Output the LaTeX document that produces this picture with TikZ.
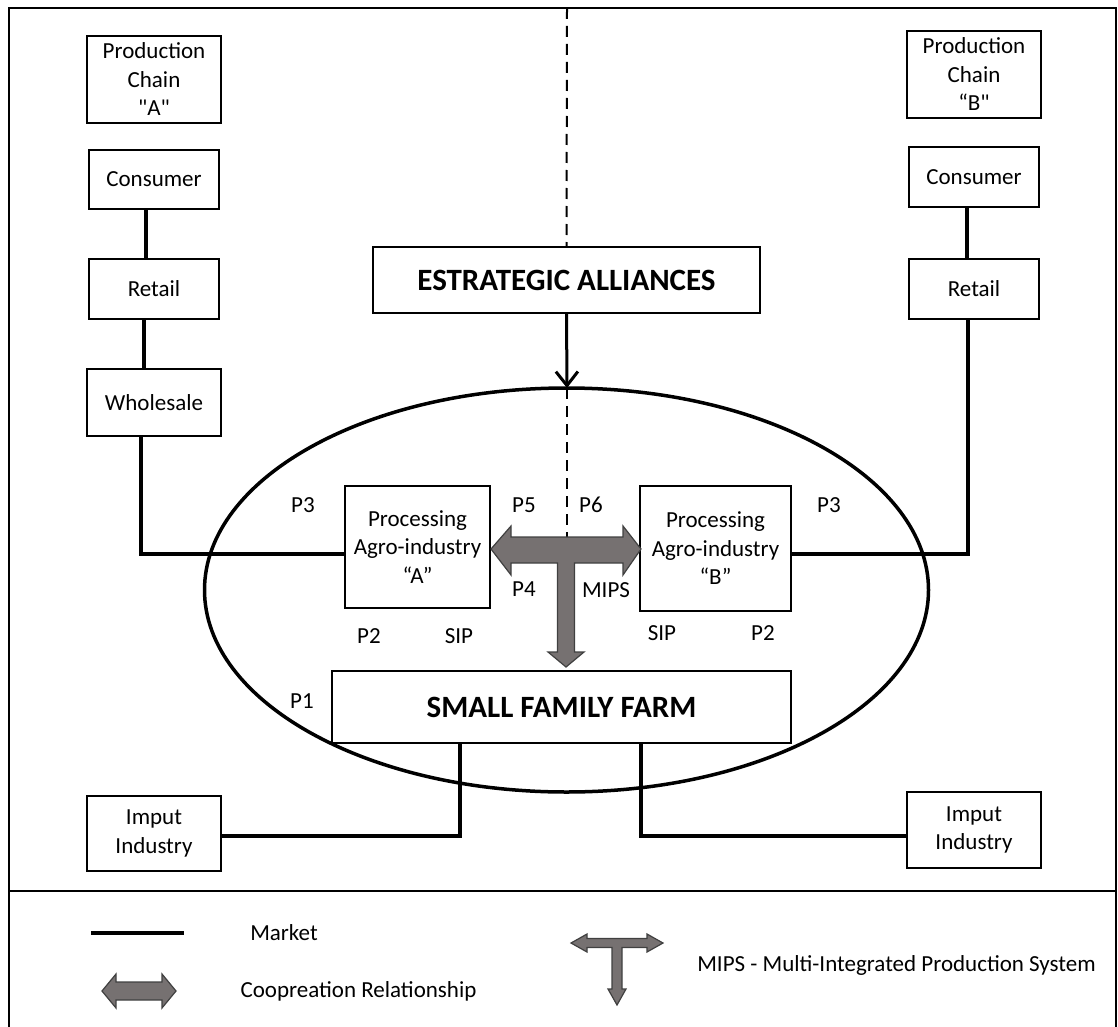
\documentclass[tikz,border=0pt]{standalone}
\usepackage{fontspec}
\newfontfamily\carlito{Carlito}
\usetikzlibrary{arrows.meta}
\definecolor{coopfill}{RGB}{118,113,113}
\definecolor{coopdraw}{RGB}{64,64,64}

\begin{document}
\begin{tikzpicture}[x=1pt,y=-1pt,
    font=\carlito\fontsize{23}{28.5}\selectfont,
    unit/.style ={draw, line width=1.3pt, align=center, inner sep=0pt},
    core/.style ={unit, font=\carlito\fontsize{31}{36}\selectfont\bfseries},
    market/.style ={line width=3.5pt},
    vision/.style ={line width=2pt, dash pattern=on 11pt off 7pt},
    coop/.style ={fill=coopfill, draw=coopdraw, line width=1.2pt}]
   \useasboundingbox (0,0) rectangle (1118,1027);
   % frame
   \draw[line width=2pt] (9,1027) -- (9,8) -- (1116,8) -- (1116,1027);
   \draw[line width=2pt] (9,891) -- (1116,891);
   % chain A
   \node[unit, minimum width=134pt, minimum height=87pt] (chainA) at (154,79.5) {Production\\Chain\\"A"};
   \node[unit, minimum width=130pt, minimum height=59pt] (consA) at (154,179.5) {Consumer};
   \node[unit, minimum width=130pt, minimum height=60pt] (retA) at (154,289) {Retail};
   \node[unit, minimum width=134pt, minimum height=67pt] (whole) at (154,402.5) {Wholesale};
   % chain B
   \node[unit, minimum width=134pt, minimum height=87pt] (chainB) at (974,74.5) {Production\\Chain\\“B"};
   \node[unit, minimum width=130pt, minimum height=60pt] (consB) at (974,177) {Consumer};
   \node[unit, minimum width=130pt, minimum height=60pt] (retB) at (974,289) {Retail};
   % centre
   \node[core, minimum width=387pt, minimum height=66pt] (alli) at (566.5,280) {ESTRATEGIC ALLIANCES};
   \node[unit, minimum width=145pt, minimum height=122pt] (procA) at (417.5,547) {Processing\\Agro-industry\\“A”};
   \node[unit, minimum width=151pt, minimum height=125pt] (procB) at (715.5,548.5) {Processing\\Agro-industry\\“B”};
   \node[core, minimum width=459pt, minimum height=72pt] (farm) at (561.5,707) {SMALL FAMILY FARM};
   \node[unit, minimum width=134pt, minimum height=75pt] (inA) at (154,833.5) {Imput\\Industry};
   \node[unit, minimum width=134pt, minimum height=76pt] (inB) at (974,830) {Imput\\Industry};
   \draw[line width=3.5pt] (566.5,590) ellipse [x radius=362pt, y radius=202pt];
   % alliances
   \coordinate (top) at (567,8);
   \coordinate (hub) at (567,388);
   \coordinate (bar) at (567,537);
   \draw[vision] (top) -- (alli.north);
   \draw[line width=3pt, -{Straight Barb[length=14pt, width=22pt]}] (alli.south) -- (hub);
   \draw[vision] (hub) -- (bar);
   % market links
   \draw[market] ([xshift=-8pt]consA.south) -- ([xshift=-8pt]retA.north);
   \draw[market] ([xshift=-10pt]retA.south) -- ([xshift=-10pt]whole.north);
   \draw[market] ([xshift=-13pt]whole.south) |- ([yshift=-7pt]procA.west);
   \draw[market] ([xshift=-7pt]consB.south) -- ([xshift=-7pt]retB.north);
   \draw[market] ([xshift=-6pt]retB.south) |- ([yshift=-5.5pt]procB.east);
   \draw[market] ([xshift=-101.5pt]farm.south) |- ([yshift=-2.5pt]inA.east);
   \draw[market] ([xshift=79.5pt]farm.south) |- ([yshift=-6pt]inB.west);
   % MIPS
   \draw[coop] (491,549) -- (511,526) -- (511,537) -- (623,537) -- (623,526) -- (641,549)
     -- (623,575) -- (623,563) -- (574.5,563) -- (574.5,652) -- (584,652) -- (566,667)
     -- (548,652) -- (557.5,652) -- (557.5,563) -- (511,563) -- (511,575) -- cycle;
   % labels
   \node (p3a) at (303,505) {P3};
   \node (p3b) at (829,505) {P3};
   \node (p5) at (524,505) {P5};
   \node (p6) at (591,505) {P6};
   \node (p4) at (524,589) {P4};
   \node (mips) at (606,590) {MIPS};
   \node (p2a) at (369,636) {P2};
   \node (sipa) at (459,636) {SIP};
   \node (sipb) at (662,633) {SIP};
   \node (p2b) at (763,633) {P2};
   \node (p1) at (302,701) {P1};
   % legend
   \coordinate (mkA) at (91,933);
   \coordinate (mkB) at (184,933);
   \draw[market] (mkA) -- (mkB);
   \node (mk) at (284,933) {Market};
   \draw[coop] (102,991) -- (116,974) -- (116,982) -- (162,982) -- (162,974) -- (176,991)
     -- (162,1008) -- (162,1000) -- (116,1000) -- (116,1008) -- cycle;
   \node (co) at (358.5,991) {Coopreation Relationship};
   \draw[coop] (571,943) -- (587,934) -- (587,938.5) -- (647,938.5) -- (647,934) -- (663,943)
     -- (647,952) -- (647,947.5) -- (622,947.5) -- (622,989) -- (626,989) -- (617,1005)
     -- (608,989) -- (612,989) -- (612,947.5) -- (587,947.5) -- (587,952) -- cycle;
   \node (ms) at (896.5,965) {MIPS - Multi-Integrated Production System};
\end{tikzpicture}
\end{document}
